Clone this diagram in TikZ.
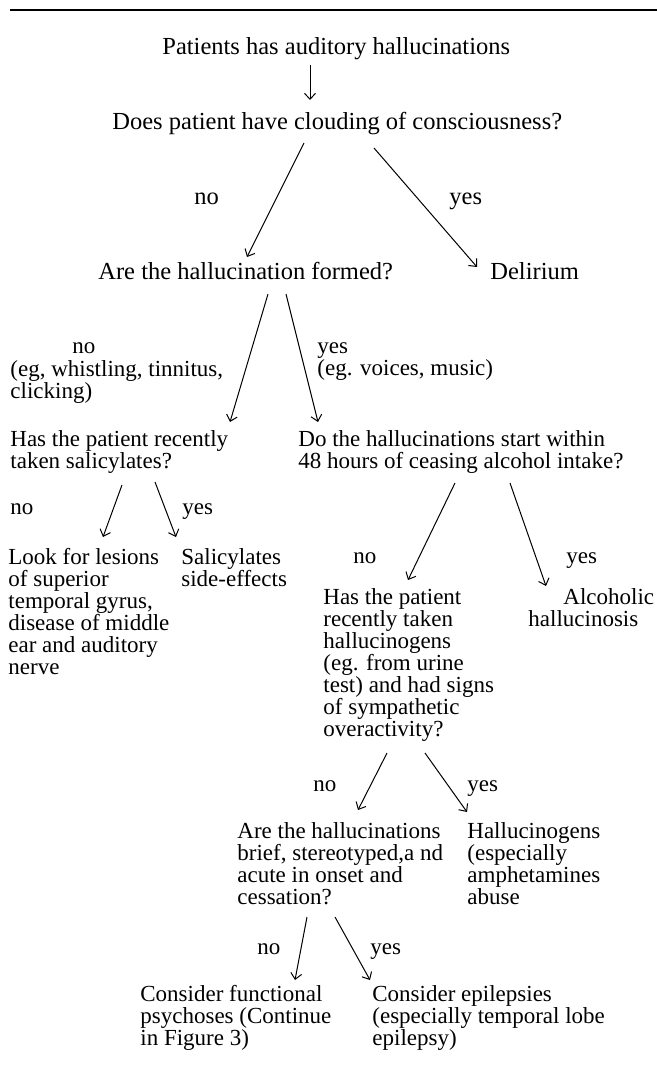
\documentclass[tikz,border=0pt]{standalone}
\usepackage{fontspec}
\setmainfont{Liberation Serif}
\usetikzlibrary{arrows.meta,calc}
\begin{document}
\begin{tikzpicture}[x=0.5pt,y=-0.5pt,
  toptxt/.style={font=\fontsize{12.25}{13}\selectfont, inner sep=0pt, anchor=base west},
  txt/.style={font=\fontsize{11.5}{11}\selectfont, inner sep=0pt, anchor=base west, align=left},
  arr/.style={-{Straight Barb[length=3pt,width=5.5pt]}, line width=0.5pt},
  rule/.style={line width=1pt}]
\fill[white] (0,0) rectangle (657,1067);
\useasboundingbox (0,0) rectangle (657,1067);
% top rule
\coordinate (rl) at (10,10);
\coordinate (rr) at (657,10);
\draw[rule] (rl) -- (rr);
% top part (base west = baseline of the last line)
\node[toptxt] (n0) at (162,54) {Patients has auditory hallucinations};
\node[toptxt] (n1) at (112,129) {Does patient have clouding of consciousness?};
\node[toptxt] (n2) at (98,279) {Are the hallucination formed?};
\node[toptxt] (n3) at (490,279) {Delirium};
\node[toptxt] (l1n) at (194,204) {no};
\node[toptxt] (l1y) at (449,204) {yes};
% second level
\node[txt] (l2n) at (72,353) {no};
\node[txt] (l2ne) at (10,398) {(eg, whistling, tinnitus,\\clicking)};
\node[txt] (l2y) at (317,375) {yes\\(eg. voices, music)};
\node[txt] (q3) at (10,468) {Has the patient recently\\taken salicylates?};
\node[txt] (q4) at (298,468) {Do the hallucinations start within\\48 hours of ceasing alcohol intake?};
\node[txt] (l3n) at (10,514) {no};
\node[txt] (l3y) at (182,514) {yes};
\node[txt] (r1) at (8,674) {Look for lesions\\of superior\\temporal gyrus,\\disease of middle\\ear and auditory\\nerve};
\node[txt] (r2) at (181,586) {Salicylates\\side-effects};
\node[txt] (l4n) at (353,563) {no};
\node[txt] (l4y) at (566,563) {yes};
\node[txt] (q5) at (323,736) {Has the patient\\recently taken\\hallucinogens\\(eg. from urine\\test) and had signs\\of sympathetic\\overactivity?};
\node[txt] (r3) at (528,626) {\hspace*{17.5pt}Alcoholic\\hallucinosis};
\node[txt] (l5n) at (313,791) {no};
\node[txt] (l5y) at (467,791) {yes};
\node[txt] (q6) at (237,904) {Are the hallucinations\\brief, stereotyped,a nd\\acute in onset and\\cessation?};
\node[txt] (r4) at (467,904) {Hallucinogens\\(especially\\amphetamines\\abuse};
\node[txt] (l6n) at (257,954) {no};
\node[txt] (l6y) at (370,954) {yes};
\node[txt] (r5) at (140,1045) {Consider functional\\psychoses (Continue\\in Figure 3)};
\node[txt] (r6) at (372,1045) {Consider epilepsies\\(especially temporal lobe\\epilepsy)};
% connectors
\draw[arr] ($(n0.base west)+(148,11)$) -- ($(n1.base west)+(198,-29)$);
\draw[arr] ($(n1.base west)+(192,14)$) -- ($(n2.base west)+(149,-22)$);
\draw[arr] ($(n1.base west)+(262,19)$) -- ($(n3.base west)+(-13,-12)$);
\draw[arr] ($(n2.base west)+(170,15)$) -- ($(q3.base west)+(220,-46)$);
\draw[arr] ($(n2.base west)+(188,15)$) -- ($(q4.base west)+(20,-46)$);
\draw[arr] ($(q3.base west)+(112,17)$) -- ($(r1.base west)+(95,-137)$);
\draw[arr] ($(q3.base west)+(145,14)$) -- ($(r2.base west)+(-5,-49)$);
\draw[arr] ($(q4.base west)+(157,15)$) -- ($(q5.base west)+(85,-156)$);
\draw[arr] ($(q4.base west)+(212,15)$) -- ($(r3.base west)+(18,-40)$);
\draw[arr] ($(q5.base west)+(64,17)$) -- ($(q6.base west)+(121,-94)$);
\draw[arr] ($(q5.base west)+(102,17)$) -- ($(r4.base west)+(0,-92)$);
\draw[arr] ($(q6.base west)+(70,13)$) -- ($(r5.base west)+(155,-65)$);
\draw[arr] ($(q6.base west)+(98,13)$) -- ($(r6.base west)+(-2,-65)$);
\end{tikzpicture}
\end{document}
